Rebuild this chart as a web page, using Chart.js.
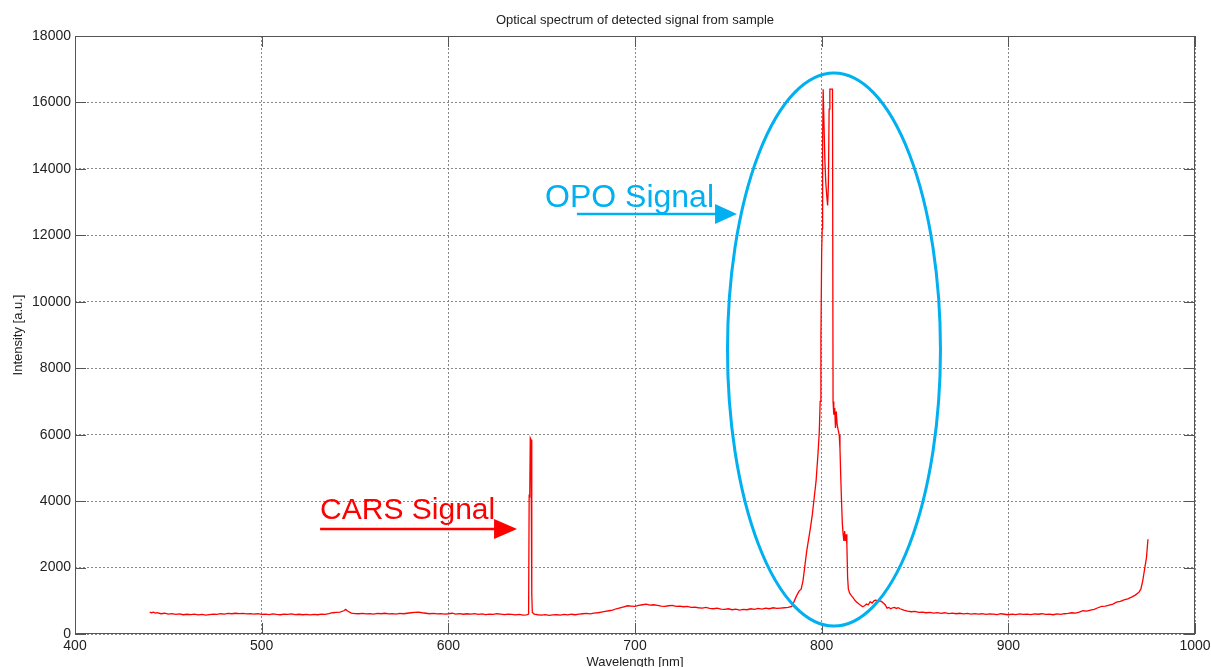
<!DOCTYPE html>
<html>
<head>
<meta charset="utf-8">
<script src="https://cdn.jsdelivr.net/npm/chart.js@4"></script>
<style>
  html, body { margin: 0; padding: 0; background: #fff; }
  #spectrum { display: block; }
</style>
</head>
<body>
<canvas id="spectrum" width="1211" height="667"></canvas>
<script>
// values
const wavelengths = [
  440, 441, 442, 443, 444, 446, 448, 450, 452, 454, 456, 458, 460, 462, 464, 466, 468, 470, 472, 474,
  476, 478, 480, 482, 484, 486, 488, 490, 492, 494, 496, 498, 500, 502, 504, 506, 508, 510, 512, 514,
  516, 518, 520, 522, 524, 526, 528, 530, 532, 534, 536, 538, 540, 542, 544, 545, 546, 548, 550, 552,
  554, 556, 558, 560, 562, 564, 566, 568, 570, 572, 574, 576, 578, 580, 582, 584, 586, 588, 590, 592,
  594, 596, 598, 600, 602, 604, 606, 608, 610, 612, 614, 616, 618, 620, 622, 624, 626, 628, 630, 632,
  634, 636, 638, 640, 642, 643, 643.3, 643.6, 643.9, 644.3, 644.7, 645, 646, 648, 650, 652, 654, 656, 658, 660,
  662, 664, 666, 668, 670, 672, 674, 676, 678, 680, 682, 684, 686, 688, 690, 692, 694, 696, 698, 700,
  702, 704, 706, 708, 710, 712, 714, 716, 718, 720, 722, 724, 726, 728, 730, 732, 734, 736, 738, 740,
  742, 744, 746, 748, 750, 752, 754, 756, 758, 760, 762, 764, 766, 768, 770, 772, 774, 776, 778, 780,
  782, 784, 785, 786, 787, 788, 789, 790, 791, 792, 793, 794, 795, 796, 797, 798, 798.7, 799.2, 799.6, 800,
  800.3, 800.5, 800.8, 801.2, 801.7, 802.2, 802.7, 803.2, 803.6, 804, 804.4, 805.8, 806.1, 806.5, 807, 807.4, 807.8, 808.3, 808.8, 809.4,
  809.8, 810.3, 810.7, 811.1, 811.5, 811.9, 812.3, 812.7, 813.1, 813.5, 813.9, 814.3, 815, 816, 817, 818, 819, 820, 821, 822,
  823, 824, 825, 826, 827, 828, 829, 830, 831, 832, 833, 834, 835, 836, 837, 838, 839, 840, 841, 842,
  844, 846, 848, 850, 852, 854, 856, 858, 860, 862, 864, 866, 868, 870, 872, 874, 876, 878, 880, 882,
  884, 886, 888, 890, 892, 894, 896, 898, 900, 902, 904, 906, 908, 910, 912, 914, 916, 918, 920, 922,
  924, 926, 928, 930, 932, 934, 936, 938, 940, 942, 944, 946, 948, 950, 952, 954, 956, 958, 960, 962,
  964, 966, 968, 970, 971, 972, 973, 974, 974.8
];
const intensities = [
  660, 640, 655, 630, 645, 610, 625, 600, 615, 590, 605, 580, 595, 585, 600, 575, 590, 570, 585, 600,
  590, 610, 600, 620, 610, 625, 615, 620, 605, 615, 600, 610, 590, 600, 585, 605, 590, 580, 600, 590,
  605, 585, 595, 580, 590, 575, 590, 580, 600, 590, 610, 640, 650, 660, 700, 740, 690, 630, 615, 610,
  620, 605, 615, 600, 620, 610, 625, 605, 615, 600, 620, 610, 625, 640, 650, 660, 640, 625, 610, 620,
  605, 615, 600, 610, 625, 600, 615, 595, 610, 600, 615, 590, 605, 585, 600, 590, 610, 600, 585, 600,
  590, 575, 590, 570, 575, 600, 4200, 4100, 5900, 5850, 1200, 650, 600, 580, 570, 585, 560, 575, 580, 570,
  590, 575, 595, 580, 600, 610, 620, 605, 630, 640, 660, 680, 700, 720, 760, 790, 820, 850, 840, 830,
  860, 880, 900, 870, 880, 860, 840, 830, 850, 860, 830, 840, 820, 830, 800, 810, 790, 780, 800, 770,
  760, 780, 750, 740, 760, 730, 750, 720, 740, 730, 760, 740, 770, 750, 780, 760, 790, 770, 780, 790,
  800, 830, 950, 1080, 1200, 1300, 1350, 1600, 2050, 2500, 2850, 3200, 3600, 4100, 4600, 5400, 6050, 7000, 8900, 11500,
  12200, 14800, 16400, 16400, 14300, 13600, 13200, 12900, 13500, 15800, 16400, 16400, 7000, 6600, 6800, 6200, 6700, 6300, 6150, 6000,
  5600, 4600, 3900, 3300, 3000, 2800, 3100, 2800, 3000, 2700, 1700, 1350, 1230, 1150, 1080, 1000, 950, 900, 860, 820,
  850, 900, 880, 970, 930, 1000, 1020, 960, 1000, 980, 930, 880, 780, 800, 760, 790, 800, 770, 790, 760,
  720, 690, 670, 680, 650, 660, 640, 650, 630, 645, 620, 640, 615, 630, 610, 625, 605, 620, 600, 615,
  600, 610, 590, 605, 600, 585, 610, 595, 580, 600, 585, 605, 590, 600, 585, 605, 595, 610, 590, 600,
  580, 605, 590, 610, 620, 640, 630, 660, 700, 690, 720, 740, 790, 830, 840, 870, 900, 960, 980, 1030,
  1060, 1110, 1170, 1260, 1350, 1600, 1950, 2300, 2850
];
const xTicks = [400, 500, 600, 700, 800, 900, 1000];
const yTicks = [0, 2000, 4000, 6000, 8000, 10000, 12000, 14000, 16000, 18000];

const points = wavelengths.map((w, i) => ({ x: w, y: intensities[i] }));

const FONT = 'Arial, "Liberation Sans", Helvetica, sans-serif';
const RED = 'rgb(255,0,0)';
const BLUE = 'rgb(0,176,240)';

// annotation positions in data units
const opoNote = { text: 'OPO Signal', x: 651.8, y: 12853, from: 668.9, to: 754.6, headBase: 742.9, arrowY: 12642 };
const carsNote = { text: 'CARS Signal', x: 531.3, y: 3462, from: 531.3, to: 636.8, headBase: 624.5, arrowY: 3161 };
const opoEllipse = { cx: 806.6, cy: 8564, rx: 57.05, ry: 8323 };

function drawArrow(ctx, xs, ys, note, color) {
  const x0 = xs.getPixelForValue(note.from);
  const x1 = xs.getPixelForValue(note.to);
  const xb = xs.getPixelForValue(note.headBase);
  const y = ys.getPixelForValue(note.arrowY);
  ctx.strokeStyle = color;
  ctx.fillStyle = color;
  ctx.lineWidth = 2.7;
  ctx.beginPath();
  ctx.moveTo(x0, y);
  ctx.lineTo(xb + 1, y);
  ctx.stroke();
  ctx.beginPath();
  ctx.moveTo(xb, y - 10);
  ctx.lineTo(x1, y);
  ctx.lineTo(xb, y + 10);
  ctx.closePath();
  ctx.fill();
}

const matlabFrame = {
  id: 'matlabFrame',
  afterDraw(chart) {
    const { ctx, chartArea: a } = chart;
    const xs = chart.scales.x, ys = chart.scales.y;
    ctx.save();
    // box
    ctx.strokeStyle = '#555';
    ctx.lineWidth = 1;
    ctx.setLineDash([]);
    ctx.strokeRect(a.left + 0.5, a.top + 0.5, a.right - a.left - 1, a.bottom - a.top - 1);
    // inward ticks
    const len = 11;
    ctx.beginPath();
    xTicks.forEach(v => {
      const px = Math.round(xs.getPixelForValue(v)) + 0.5;
      ctx.moveTo(px, a.bottom); ctx.lineTo(px, a.bottom - len);
      ctx.moveTo(px, a.top); ctx.lineTo(px, a.top + len);
    });
    yTicks.forEach(v => {
      const py = Math.round(ys.getPixelForValue(v)) + 0.5;
      ctx.moveTo(a.left, py); ctx.lineTo(a.left + len, py);
      ctx.moveTo(a.right, py); ctx.lineTo(a.right - len, py);
    });
    ctx.stroke();

    // title and axis labels
    ctx.fillStyle = '#222';
    ctx.font = '13px ' + FONT;
    ctx.textAlign = 'center';
    ctx.textBaseline = 'middle';
    ctx.fillText('Optical spectrum of detected signal from sample', (a.left + a.right) / 2, 20);
    ctx.textBaseline = 'alphabetic';
    ctx.fillText('Wavelength [nm]', (a.left + a.right) / 2, 666);
    ctx.save();
    ctx.translate(22, (a.top + a.bottom) / 2);
    ctx.rotate(-Math.PI / 2);
    ctx.fillText('Intensity [a.u.]', 0, 0);
    ctx.restore();

    // annotations
    ctx.strokeStyle = BLUE;
    ctx.lineWidth = 3;
    ctx.beginPath();
    const cx = xs.getPixelForValue(opoEllipse.cx);
    const cy = ys.getPixelForValue(opoEllipse.cy);
    const rx = xs.getPixelForValue(opoEllipse.cx + opoEllipse.rx) - cx;
    const ry = cy - ys.getPixelForValue(opoEllipse.cy + opoEllipse.ry);
    ctx.ellipse(cx, cy, rx, ry, 0, 0, Math.PI * 2);
    ctx.stroke();

    ctx.textAlign = 'left';
    ctx.font = '32px ' + FONT;
    ctx.fillStyle = BLUE;
    ctx.fillText(opoNote.text, xs.getPixelForValue(opoNote.x), ys.getPixelForValue(opoNote.y));
    drawArrow(ctx, xs, ys, opoNote, BLUE);

    ctx.font = '30px ' + FONT;
    ctx.fillStyle = RED;
    ctx.fillText(carsNote.text, xs.getPixelForValue(carsNote.x), ys.getPixelForValue(carsNote.y));
    drawArrow(ctx, xs, ys, carsNote, RED);
    ctx.restore();
  }
};

new Chart(document.getElementById('spectrum'), {
  type: 'line',
  data: {
    datasets: [{
      data: points,
      borderColor: RED,
      borderWidth: 1.3,
      pointRadius: 0,
      tension: 0,
      fill: false
    }]
  },
  options: {
    responsive: false,
    animation: false,
    layout: { padding: { top: 36, right: 16, left: 0, bottom: 0 } },
    plugins: { legend: { display: false }, title: { display: false }, tooltip: { enabled: false } },
    scales: {
      x: {
        type: 'linear',
        min: 400, max: 1000,
        afterFit(scale) { scale.height = 33; scale.paddingLeft = 0; scale.paddingRight = 0; },
        afterBuildTicks(scale) { scale.ticks = xTicks.map(v => ({ value: v })); },
        ticks: { color: '#222', font: { family: FONT, size: 14 }, padding: 4, maxRotation: 0, autoSkip: false,
                 callback: v => String(v) },
        grid: { color: '#888', lineWidth: 1, drawTicks: false },
        border: { display: false, dash: [2, 2] }
      },
      y: {
        type: 'linear',
        min: 0, max: 18000,
        afterFit(scale) { scale.width = 75; scale.paddingTop = 0; scale.paddingBottom = 0; },
        afterBuildTicks(scale) { scale.ticks = yTicks.map(v => ({ value: v })); },
        ticks: { color: '#222', font: { family: FONT, size: 14 }, padding: 4, autoSkip: false,
                 callback: v => String(v) },
        grid: { color: '#888', lineWidth: 1, drawTicks: false },
        border: { display: false, dash: [2, 2] }
      }
    }
  },
  plugins: [matlabFrame]
});
</script>
</body>
</html>
